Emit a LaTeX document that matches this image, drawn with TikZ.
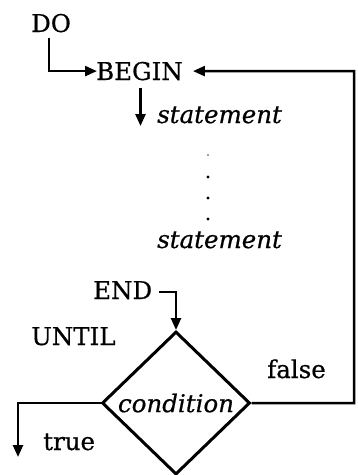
\documentclass[tikz,border=0pt]{standalone}
\usepackage{fontspec}
\setmainfont{DejaVu Serif}[FakeBold=0.6]
\usetikzlibrary{shapes.geometric,arrows.meta}

\begin{document}
\begin{tikzpicture}[x=1pt, y=-1pt,
    every node/.style={font=\fontsize{24.5}{28}\selectfont, inner sep=0pt},
    flow/.style={line width=2.5pt, -{Triangle[length=12pt,width=10pt]}},
    test/.style={diamond, draw, line width=3pt, minimum width=148pt,
      minimum height=143pt, inner sep=-4pt}]
  \useasboundingbox (0,0) rectangle (357,475);

  % keywords and statements
  \node[anchor=base west] (do) at (31,32) {DO};
  \node[anchor=base west] (begin) at (96,80) {BEGIN};
  \node[anchor=base west] (stmta) at (157,123) {\itshape statement};
  \node[anchor=base west] (stmtb) at (157,248) {\itshape statement};
  \node[anchor=base west] (end) at (93,299) {END};
  \node[anchor=base west] (until) at (31,345) {UNTIL};
  \node[test] (cond) at (176,403) {\itshape condition};
  \node[anchor=base west] (false) at (267,378) {false};
  \node[anchor=base west] (true) at (43,450) {true};

  % dots between the statements
  \fill[black!50] (208,155) circle (1.1pt);
  \foreach \y in {177,198,219}
    \fill (208,\y) circle (1.7pt);

  \coordinate (back) at (354,71);
  \coordinate (out) at (18,457);

  % connectors
  \draw[flow] ([shift={(-2,5)}]do.south) |- ([shift={(1,0)}]begin.west);
  \draw[flow] ([shift={(1,7)}]begin.south) -- ([shift={(1,3)}]begin.south |- stmta.base);
  \draw[flow] (cond.east) -| (back) -- ([shift={(10,0)}]begin.east);
  \draw[flow] ([shift={(7,2)}]end.east) -| (cond.north);
  \draw[flow] (cond.west) -| (out);
\end{tikzpicture}
\end{document}
